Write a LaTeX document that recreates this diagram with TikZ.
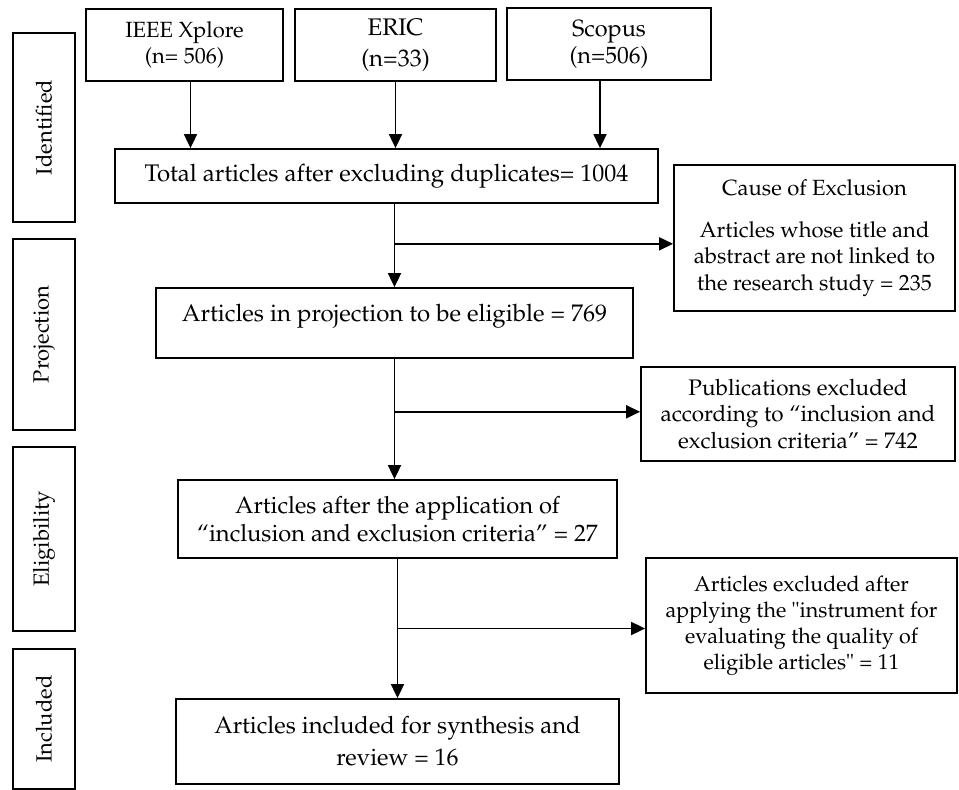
\documentclass[tikz,border=0pt]{standalone}
\usepackage[T1]{fontenc}
\usepackage{mathpazo}
\usepackage{tikz}
\usetikzlibrary{arrows.meta,calc}

\tikzset{
  box/.style={draw, line width=1.8pt, align=center, inner sep=0pt},
  stagebox/.style={box, rotate=90, minimum height=62pt, font=\fontsize{22}{24}\selectfont},
  arr/.style={line width=1.8pt, -{Triangle[width=13pt,length=14pt]}},
}

\begin{document}
\begin{tikzpicture}[x=1pt,y=-1pt]
\useasboundingbox (0,0) rectangle (959,790);
% stages
\node[stagebox, minimum width=189pt] (ident) at (44,127.5) {Identified};
\node[stagebox, minimum width=191pt] (projst) at (44,334.5) {Projection};
\node[stagebox, minimum width=184pt] (eligst) at (44,539) {Eligibility};
\node[stagebox, minimum width=140pt] (inclst) at (44,719) {Included};
% sources
\node[box, minimum width=197pt, minimum height=72pt, font=\fontsize{22}{26}\selectfont] (ieee) at (184.5,45) {IEEE Xplore\\(n= 506)};
\node[box, minimum width=201pt, minimum height=72pt, font=\fontsize{24}{31}\selectfont] (eric) at (395.5,45) {ERIC\\(n=33)};
\node[box, minimum width=204pt, minimum height=72pt, font=\fontsize{23.5}{27}\selectfont] (scopus) at (609,44) {Scopus\\(n=506)};
% main column
\node[box, minimum width=543pt, minimum height=54pt, font=\fontsize{24}{28}\selectfont] (total) at (386.5,176) {Total articles after excluding duplicates= 1004};
\node[box, minimum width=477pt, minimum height=70pt, text depth=20pt, font=\fontsize{24}{28}\selectfont] (proj) at (394.5,323) {Articles in projection to be eligible = 769};
\node[box, minimum width=439pt, minimum height=78pt, font=\fontsize{23.7}{28}\selectfont] (after) at (397.5,519) {Articles after the application of\\``inclusion and exclusion criteria'' = 27};
\node[box, minimum width=443pt, minimum height=85pt, font=\fontsize{23.8}{32}\selectfont] (incl) at (397.5,741.5) {Articles included for synthesis and\\review = 16};
% exclusions
\node[box, minimum width=281pt, minimum height=146pt, font=\fontsize{22}{26.5}\selectfont] (cause) at (814.5,238) {Cause of Exclusion\\[15pt]Articles whose title and\\abstract are not linked to\\the research study = 235};
\node[box, minimum width=314pt, minimum height=94pt, font=\fontsize{22.5}{26.5}\selectfont] (pub) at (798,414) {Publications excluded\\according to ``inclusion and\\exclusion criteria'' = 742};
\node[box, minimum width=311pt, minimum height=135pt, font=\fontsize{21.5}{26}\selectfont] (excl) at (801.5,625.5) {Articles excluded after\\applying the "instrument for\\evaluating the quality of\\eligible articles" = 11};
% arrows
\draw[arr] ([xshift=6pt]ieee.south) -- ([xshift=6pt]ieee.south |- total.north);
\draw[arr] (eric.south) -- (eric.south |- total.north);
\draw[arr] ([xshift=-9pt]scopus.south) -- ([xshift=-9pt]scopus.south |- total.north);
\draw[arr] (total.south -| proj.north) -- (proj.north);
\draw[arr] (proj.south) -- (proj.south |- after.north);
\draw[arr] (after.south) -- (after.south |- incl.north);
\coordinate (b1) at ($(total.south -| proj.north)!0.48!(proj.north)$);
\coordinate (b2) at ($(proj.south)!0.44!(proj.south |- after.north)$);
\coordinate (b3) at ($(after.south)!0.5!(after.south |- incl.north)$);
\draw[arr] (b1) -- (b1 -| cause.west);
\draw[arr] (b2) -- (b2 -| pub.west);
\draw[arr] (b3) -- (b3 -| excl.west);
\end{tikzpicture}
\end{document}
